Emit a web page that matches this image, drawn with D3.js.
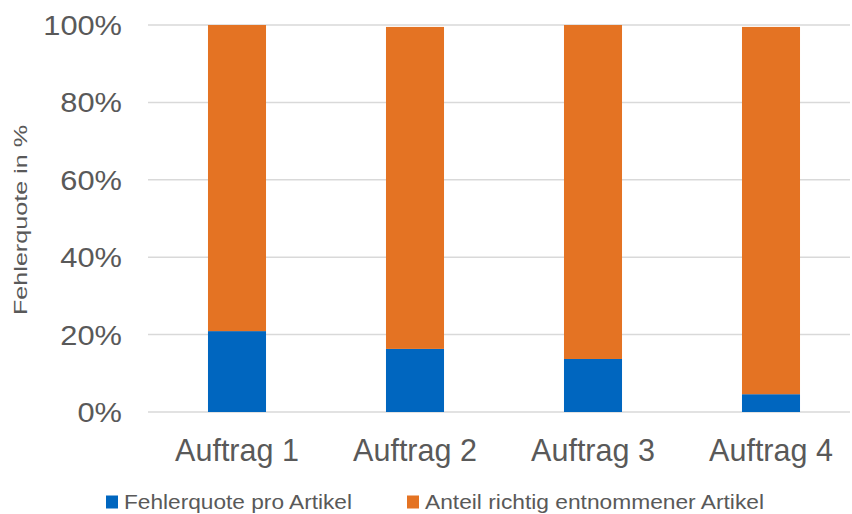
<!DOCTYPE html>
<html>
<head>
<meta charset="utf-8">
<script src="https://cdn.jsdelivr.net/npm/d3@7"></script>
<style>
  body { margin: 0; background: #fff; }
  text { font-family: "Liberation Sans", Arial, sans-serif; }
</style>
</head>
<body>
<script>
// data
var auftraege = ["Auftrag 1", "Auftrag 2", "Auftrag 3", "Auftrag 4"];
var fehlerquote = [20.9, 16.3, 13.7, 4.6];
var anteilRichtig = [79.1, 83.2, 86.3, 94.9];
var yTicks = [0, 20, 40, 60, 80, 100];
var seriesNames = ["Fehlerquote pro Artikel", "Anteil richtig entnommener Artikel"];
var seriesColors = ["#0066BF", "#E47323"];

var w = 852, h = 514;
var plotLeft = 148, plotRight = 860, plotTop = 25, plotBottom = 412;

var svg = d3.select("body").append("svg")
  .attr("width", w)
  .attr("height", h);

var x = d3.scaleBand().domain(auftraege).range([plotLeft, plotRight]).paddingInner(0.674).paddingOuter(0.337);
var y = d3.scaleLinear().domain([0, 100]).range([plotBottom, plotTop]);

// gridlines
svg.selectAll(".grid").data(yTicks).enter().append("line")
  .attr("class", "grid")
  .attr("x1", plotLeft).attr("x2", 850)
  .attr("y1", function(d) { return y(d); })
  .attr("y2", function(d) { return y(d); })
  .attr("stroke", "#D9D9D9")
  .attr("stroke-width", 1.5);

// y labels (reference text is a bit wider than Liberation)
svg.selectAll(".ylab").data(yTicks).enter().append("text")
  .attr("class", "ylab")
  .attr("transform", function(d) { return "translate(122," + (y(d) + 10) + ") scale(1.1,1)"; })
  .attr("text-anchor", "end")
  .attr("font-size", "28px")
  .attr("fill", "#595959")
  .text(function(d) { return d + "%"; });

// stacked bars
var rows = auftraege.map(function(a, i) {
  return { name: a, f: fehlerquote[i], r: anteilRichtig[i] };
});
var stack = d3.stack().keys(["f", "r"])(rows);

svg.selectAll(".serie").data(stack).enter().append("g")
  .attr("class", "serie")
  .attr("fill", function(d, i) { return seriesColors[i]; })
  .selectAll("rect").data(function(d) { return d; }).enter().append("rect")
  .attr("x", function(d) { return x(d.data.name); })
  .attr("width", x.bandwidth())
  .attr("y", function(d) { return y(d[1]); })
  .attr("height", function(d) { return y(d[0]) - y(d[1]); });

// x labels
svg.selectAll(".xlab").data(auftraege).enter().append("text")
  .attr("class", "xlab")
  .attr("x", function(d) { return x(d) + x.bandwidth() / 2; })
  .attr("y", 461)
  .attr("text-anchor", "middle")
  .attr("font-size", "30.5px")
  .attr("fill", "#595959")
  .text(function(d) { return d; });

// y title
svg.append("text")
  .attr("transform", "translate(27,220) rotate(-90)")
  .attr("text-anchor", "middle")
  .attr("font-size", "19px")
  .attr("textLength", 190)
  .attr("lengthAdjust", "spacingAndGlyphs")
  .attr("fill", "#595959")
  .text("Fehlerquote in %");

// legend
var legendX = [106, 407];
var legendLen = [228, 339];
var lg = svg.selectAll(".legend").data(seriesNames).enter().append("g")
  .attr("class", "legend")
  .attr("transform", function(d, i) { return "translate(" + legendX[i] + ",495.5)"; });
lg.append("rect")
  .attr("width", 12).attr("height", 13)
  .attr("fill", function(d, i) { return seriesColors[i]; });
lg.append("text")
  .attr("x", 18).attr("y", 13.2)
  .attr("font-size", "20px")
  .attr("textLength", function(d, i) { return legendLen[i]; })
  .attr("lengthAdjust", "spacingAndGlyphs")
  .attr("fill", "#595959")
  .text(function(d) { return d; });
</script>
</body>
</html>
